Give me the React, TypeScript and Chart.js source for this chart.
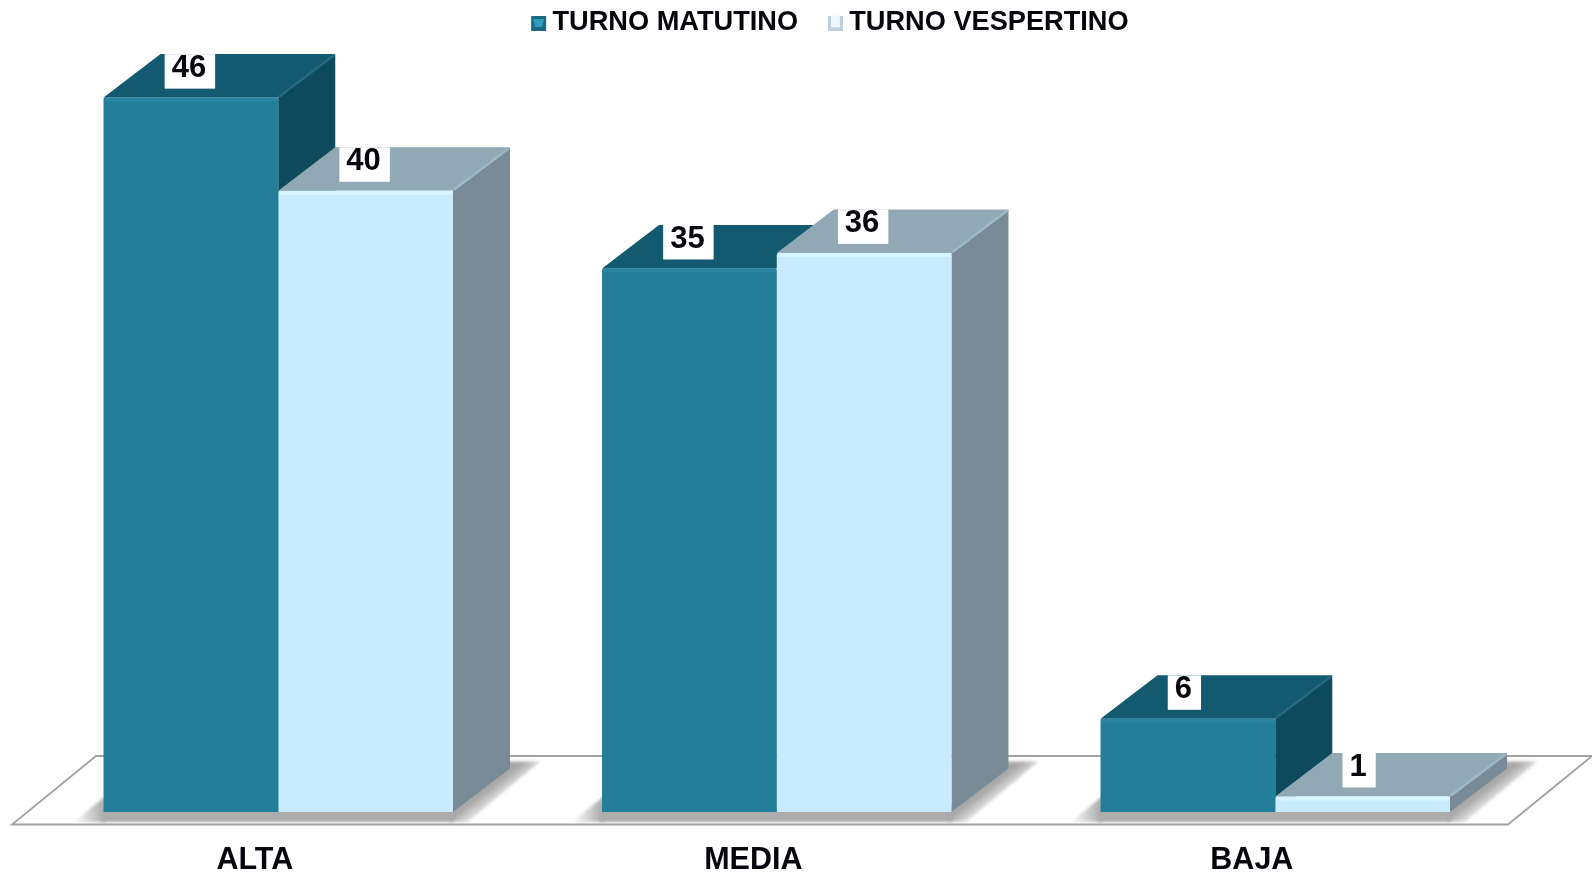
import React, { useEffect, useRef } from "react";
import { Chart, registerables } from "chart.js";

Chart.register(...registerables);

const categories = ["ALTA", "MEDIA", "BAJA"];
const matutino = [46, 35, 6];
const vespertino = [40, 36, 1];
const seriesNames = ["TURNO MATUTINO", "TURNO VESPERTINO"];

const FONT = '"Liberation Sans", Arial, sans-serif';
const DX = 57;
const DY = 43.5;
const LEGEND_H = 35.5;
const LEGEND_PAD = 31.5;
const palettes = [
  { front: "#237e9a", top: "#135a70", side: "#0d4a5b", ridge: "#236a82", bevel: "#2a84a0" },
  { front: "#c8ecfd", top: "#90a9b5", side: "#788b96", ridge: "#9db8c5", bevel: "#d8f4ff" },
];

function poly(ctx: CanvasRenderingContext2D, pts: number[][], fill: string | CanvasGradient) {
  ctx.beginPath();
  pts.forEach((p, i) => (i ? ctx.lineTo(p[0], p[1]) : ctx.moveTo(p[0], p[1])));
  ctx.closePath();
  ctx.fillStyle = fill;
  ctx.fill();
}

const scene = {
  id: "scene3d",
  beforeLayout(chart: any) {
    const lg = chart.legend;
    if (lg && !lg.__wrapped) {
      const fit = lg.fit.bind(lg);
      lg.fit = () => {
        fit();
        lg.height = LEGEND_H;
      };
      lg.__wrapped = true;
    }
  },
  afterLayout(chart: any) {
    const lg = chart.legend;
    lg.left += 54;
    lg.right += 54;
    lg.top = 22.3 - LEGEND_PAD - 13.6;
    lg.adjustHitBoxes();
  },
  beforeDatasetsDraw(chart: any) {
    const ctx: CanvasRenderingContext2D = chart.ctx;
    const base = chart.scales.y.getPixelForValue(0);
    const area = chart.chartArea;
    // floor
    const fy = base + 12.5;
    const by = base - 56;
    const fl = area.left - 17;
    const fr = area.right - 16.5;
    ctx.save();
    ctx.strokeStyle = "#a2a2a2";
    ctx.lineWidth = 1.8;
    ctx.beginPath();
    ctx.moveTo(fl, fy);
    ctx.lineTo(fr, fy);
    ctx.lineTo(fr + 84, by);
    ctx.lineTo(fl + 84, by);
    ctx.closePath();
    ctx.stroke();
    ctx.restore();
    const m0 = chart.getDatasetMeta(0).data;
    const m1 = chart.getDatasetMeta(1).data;
    categories.forEach((_, i) => {
      const x0 = m0[i].x - m0[i].width / 2;
      const x1 = m1[i].x + m1[i].width / 2;
      // ground shadow
      ctx.save();
      ctx.filter = "blur(1.5px)";
      poly(ctx, [[x0 - 2, base - 4], [x1, base - 4], [x1, base + 10], [x0 - 2, base + 10]], "#adadad");
      const gl = ctx.createLinearGradient(x0 - 30, 0, x0, 0);
      gl.addColorStop(0, "rgba(173,173,173,0)");
      gl.addColorStop(1, "#adadad");
      poly(ctx, [[x0 + 2, base - 16], [x0 + 2, base + 10], [x0 - 30, base + 10]], gl);
      const gr = ctx.createLinearGradient(x1 + 28.5, base - 21.75, x1 + 28.5 + 14, base - 21.75 + 18);
      gr.addColorStop(0, "#a8a8a8");
      gr.addColorStop(0.15, "#a8a8a8");
      gr.addColorStop(1, "rgba(168,168,168,0)");
      poly(ctx, [[x1 - 3, base + 10], [x1 - 3, base - 4], [x1 + DX - 3, base - DY - 7], [x1 + 87, base - DY - 7], [x1 + 15, base + 10]], gr);
      ctx.restore();
      // 3D faces
      [m0[i], m1[i]].forEach((b, d) => {
        const c = palettes[d];
        const l = b.x - b.width / 2;
        const r = b.x + b.width / 2;
        const t = b.y;
        poly(ctx, [[r, t], [r + DX, t - DY], [r + DX, base - DY], [r, base]], c.side);
        poly(ctx, [[l, t], [l + DX, t - DY], [r + DX, t - DY], [r, t]], c.top);
        ctx.save();
        ctx.strokeStyle = c.ridge;
        ctx.lineWidth = 2.5;
        ctx.beginPath();
        ctx.moveTo(r + 1, t - 1);
        ctx.lineTo(r + DX - 1, t - DY + 1);
        ctx.stroke();
        ctx.restore();
      });
    });
  },
  afterDatasetsDraw(chart: any) {
    const ctx: CanvasRenderingContext2D = chart.ctx;
    ctx.save();
    // bevel highlight on the front faces
    chart.data.datasets.forEach((_: any, d: number) => {
      chart.getDatasetMeta(d).data.forEach((b: any) => {
        ctx.fillStyle = palettes[d].bevel;
        ctx.fillRect(b.x - b.width / 2 + 1, b.y, b.width - 2, 4);
      });
    });
    ctx.font = `bold 31px ${FONT}`;
    ctx.textAlign = "center";
    ctx.textBaseline = "middle";
    chart.data.datasets.forEach((ds: any, d: number) => {
      chart.getDatasetMeta(d).data.forEach((b: any, i: number) => {
        const txt = String(ds.data[i]);
        const w = ctx.measureText(txt).width + 16;
        const cx = b.x - 1 - (txt.length === 1 ? 2.5 : 0);
        const top = b.y - DY;
        ctx.fillStyle = "#ffffff";
        ctx.fillRect(cx - w / 2, top, w, 34.5);
        ctx.fillStyle = "#06060c";
        ctx.fillText(txt, cx - 1, top + 14.5);
      });
    });
    ctx.restore();
    // legend icons
    const lg = chart.legend;
    lg.legendHitBoxes.forEach((h: any, i: number) => {
      const x = h.left - 1.7;
      const s = 15;
      const y = 16;
      if (i === 0) {
        ctx.fillStyle = "#1b6a83";
        ctx.fillRect(x, y, s, s);
        poly(ctx, [[x + 2, y + 3], [x + s - 2, y + 3], [x + s - 4, y + s - 4], [x + 4, y + s - 4]], "#2f9dc0");
      } else {
        ctx.fillStyle = "#bccfdc";
        ctx.fillRect(x, y, s, s);
        ctx.fillStyle = "#eef6fb";
        ctx.fillRect(x + 3, y - 0.5, s - 6, s - 3);
      }
    });
  },
};

export default function App() {
  const ref = useRef<HTMLCanvasElement>(null);
  useEffect(() => {
    const chart = new Chart(ref.current!, {
      type: "bar",
      data: {
        labels: categories,
        datasets: [
          { label: seriesNames[0], data: matutino, backgroundColor: palettes[0].front, borderRadius: 2 },
          { label: seriesNames[1], data: vespertino, backgroundColor: palettes[1].front, borderRadius: 2 },
        ],
      },
      plugins: [scene],
      options: {
        responsive: false,
        animation: false,
        layout: { padding: { left: 29, right: 67.5, top: 0, bottom: 0 } },
        datasets: { bar: { categoryPercentage: 0.701, barPercentage: 1 } },
        scales: {
          x: {
            grid: { display: false },
            border: { display: false },
            afterFit: (s: any) => { s.height = 64; },
            ticks: {
              color: "#06060c",
              padding: 25,
              labelOffset: -23.4,
              maxRotation: 0,
              font: { family: FONT, size: 30.5, weight: "bold", lineHeight: 1 },
            },
          },
          y: { display: false, min: 0, max: 50 },
        },
        plugins: {
          tooltip: { enabled: false },
          legend: {
            position: "top",
            labels: {
              boxWidth: 6,
              boxHeight: 6,
              padding: LEGEND_PAD,
              color: "#06060c",
              font: { family: FONT, size: 27.2, weight: "bold" },
              generateLabels: (c: any) =>
                c.data.datasets.map((ds: any, i: number) => ({
                  text: ds.label,
                  fillStyle: "rgba(0,0,0,0)",
                  strokeStyle: "rgba(0,0,0,0)",
                  lineWidth: 0,
                  hidden: false,
                  datasetIndex: i,
                  fontColor: "#06060c",
                })),
            },
          },
        },
      } as any,
    });
    return () => chart.destroy();
  }, []);
  return (
    <canvas
      ref={ref}
      width={1592}
      height={876}
      style={{ position: "absolute", left: 0, top: 0, display: "block" }}
    />
  );
}
